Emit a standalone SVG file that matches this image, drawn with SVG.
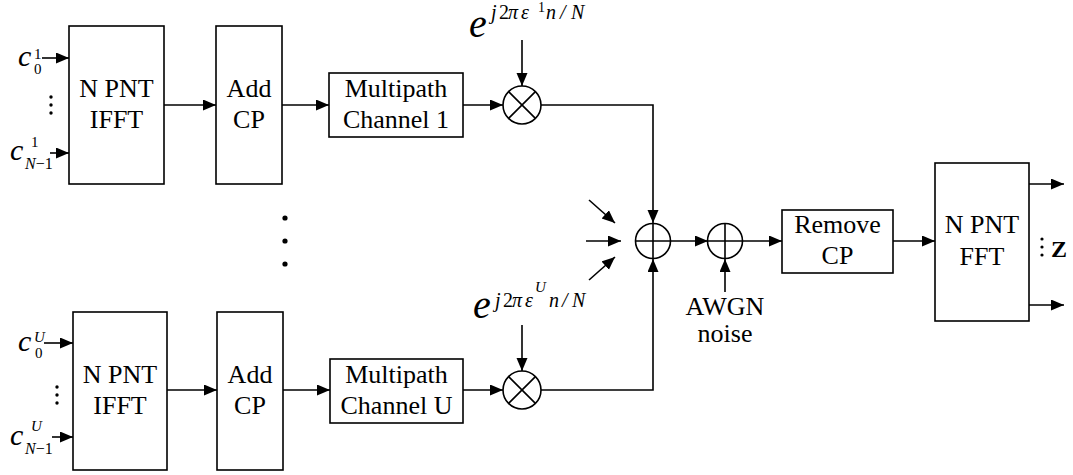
<svg xmlns="http://www.w3.org/2000/svg" width="1073" height="475" viewBox="0 0 1073 475" font-family="'Liberation Serif', 'Times New Roman', serif">
<style>
.box{fill:#fff;stroke:#000;stroke-width:1.6}
.ln{fill:none;stroke:#000;stroke-width:1.6}
.ar{fill:none;stroke:#000;stroke-width:1.6;marker-end:url(#ah)}
.t{font-size:26px;fill:#000;text-anchor:middle}
.m{font-style:italic;fill:#000}
.dot{fill:#000}
</style>
<defs>
<marker id="ah" markerUnits="userSpaceOnUse" markerWidth="14" markerHeight="12" refX="13" refY="5.5" orient="auto">
<path d="M0,0 L13,5.5 L0,11 z" fill="#000"/>
</marker>
</defs>
<rect width="1073" height="475" fill="#fff"/>

<g id="connectors">
<line class="ar" x1="42" y1="58" x2="69" y2="58"/>
<line class="ar" x1="50" y1="153" x2="69" y2="153"/>
<line class="ar" x1="164" y1="105" x2="216" y2="105"/>
<line class="ar" x1="282" y1="105" x2="329" y2="105"/>
<line class="ar" x1="463" y1="105" x2="503" y2="105"/>
<line class="ar" x1="522" y1="40" x2="522" y2="86"/>
<polyline class="ar" points="541,105 653,105 653,223"/>

<line class="ar" x1="44" y1="343" x2="73" y2="343"/>
<line class="ar" x1="52" y1="437" x2="73" y2="437"/>
<line class="ar" x1="167" y1="390" x2="217" y2="390"/>
<line class="ar" x1="283" y1="390" x2="330" y2="390"/>
<line class="ar" x1="463" y1="390" x2="503" y2="390"/>
<line class="ar" x1="522" y1="325" x2="522" y2="371"/>
<polyline class="ar" points="541,390 653,390 653,259"/>

<line class="ar" x1="589" y1="200" x2="615" y2="223"/>
<line class="ar" x1="586" y1="241" x2="621" y2="241"/>
<line class="ar" x1="589" y1="280" x2="615" y2="257"/>

<line class="ar" x1="670" y1="241" x2="708" y2="241"/>
<line class="ar" x1="742" y1="241" x2="782" y2="241"/>
<line class="ar" x1="725" y1="292" x2="725" y2="259"/>
<line class="ar" x1="893" y1="241" x2="935" y2="241"/>
<line class="ar" x1="1029" y1="184" x2="1064" y2="184"/>
<line class="ar" x1="1029" y1="305" x2="1064" y2="305"/>
</g>

<g id="ifft1">
<rect class="box" x="69" y="26" width="95" height="158"/>
<text class="t" x="116.5" y="97">N PNT</text>
<text class="t" x="116.5" y="128">IFFT</text>
</g>
<g id="addcp1">
<rect class="box" x="216" y="26" width="66" height="158"/>
<text class="t" x="249" y="97">Add</text>
<text class="t" x="249" y="128">CP</text>
</g>
<g id="channel1">
<rect class="box" x="329" y="73" width="134" height="64"/>
<text class="t" x="396" y="97">Multipath</text>
<text class="t" x="396" y="128">Channel 1</text>
</g>
<g id="mult1">
<circle class="box" cx="522" cy="105" r="19"/>
<path class="ln" d="M508.6,91.6 L535.4,118.4 M535.4,91.6 L508.6,118.4" stroke-width="1.2"/>
</g>
<g id="exp1">
<text class="m" x="469" y="37" font-size="40">e</text>
<text class="m" font-size="20" y="19"><tspan x="491">j</tspan><tspan x="499" font-style="normal">2</tspan><tspan x="508">π</tspan><tspan x="521">ε</tspan><tspan x="538" y="12" font-size="14" font-style="normal">1</tspan><tspan x="546" y="19">n</tspan><tspan x="560">/</tspan><tspan x="571">N</tspan></text>
</g>
<g id="inputs1">
<text class="m" x="18" y="66" font-size="30">c</text>
<text x="34" y="59" font-size="15">1</text>
<text x="34" y="74" font-size="15">0</text>
<circle class="dot" cx="51" cy="97" r="1.7"/>
<circle class="dot" cx="51" cy="105" r="1.7"/>
<circle class="dot" cx="51" cy="113" r="1.7"/>
<text class="m" x="10" y="160" font-size="30">c</text>
<text x="31" y="147" font-size="15">1</text>
<text class="m" x="25" y="169" font-size="16">N<tspan font-style="normal">−1</tspan></text>
</g>

<g id="vdots">
<circle class="dot" cx="285" cy="218" r="2.6"/>
<circle class="dot" cx="285" cy="241" r="2.6"/>
<circle class="dot" cx="285" cy="264" r="2.6"/>
</g>

<g id="ifftU">
<rect class="box" x="73" y="312" width="94" height="158"/>
<text class="t" x="120" y="383">N PNT</text>
<text class="t" x="120" y="414">IFFT</text>
</g>
<g id="addcpU">
<rect class="box" x="217" y="312" width="66" height="158"/>
<text class="t" x="250" y="383">Add</text>
<text class="t" x="250" y="414">CP</text>
</g>
<g id="channelU">
<rect class="box" x="330" y="359" width="133" height="64"/>
<text class="t" x="396.5" y="383">Multipath</text>
<text class="t" x="396.5" y="414">Channel U</text>
</g>
<g id="multU">
<circle class="box" cx="522" cy="390" r="19"/>
<path class="ln" d="M508.6,376.6 L535.4,403.4 M535.4,376.6 L508.6,403.4" stroke-width="1.2"/>
</g>
<g id="expU">
<text class="m" x="473" y="318" font-size="40">e</text>
<text class="m" font-size="20" y="307"><tspan x="495">j</tspan><tspan x="503" font-style="normal">2</tspan><tspan x="512">π</tspan><tspan x="525">ε</tspan><tspan x="535" y="292" font-size="15">U</tspan><tspan x="549" y="307">n</tspan><tspan x="562">/</tspan><tspan x="572">N</tspan></text>
</g>
<g id="inputsU">
<text class="m" x="18" y="351" font-size="30">c</text>
<text class="m" x="34" y="342" font-size="15">U</text>
<text x="35" y="358" font-size="15">0</text>
<circle class="dot" cx="57" cy="387" r="1.7"/>
<circle class="dot" cx="57" cy="395" r="1.7"/>
<circle class="dot" cx="57" cy="403" r="1.7"/>
<text class="m" x="10" y="445" font-size="30">c</text>
<text class="m" x="31" y="431" font-size="15">U</text>
<text class="m" x="25" y="454" font-size="16">N<tspan font-style="normal">−1</tspan></text>
</g>

<g id="sum">
<circle class="box" cx="653" cy="241" r="17.5"/>
<path class="ln" d="M635.5,241 H670.5 M653,223.5 V258.5" stroke-width="1.2"/>
</g>
<g id="awgnsum">
<circle class="box" cx="725" cy="241" r="17.5"/>
<path class="ln" d="M707.5,241 H742.5 M725,223.5 V258.5" stroke-width="1.2"/>
</g>
<g id="awgn">
<text class="t" x="725" y="315">AWGN</text>
<text class="t" x="725" y="342">noise</text>
</g>
<g id="removecp">
<rect class="box" x="782" y="210" width="111" height="63"/>
<text class="t" x="837.5" y="233">Remove</text>
<text class="t" x="837.5" y="264">CP</text>
</g>
<g id="fft">
<rect class="box" x="935" y="163" width="94" height="158"/>
<text class="t" x="982" y="233">N PNT</text>
<text class="t" x="982" y="265">FFT</text>
</g>
<g id="output">
<circle class="dot" cx="1042" cy="239" r="1.6"/>
<circle class="dot" cx="1042" cy="247" r="1.6"/>
<circle class="dot" cx="1042" cy="255" r="1.6"/>
<text x="1051" y="257" font-weight="bold" font-size="24">Z</text>
</g>
</svg>
